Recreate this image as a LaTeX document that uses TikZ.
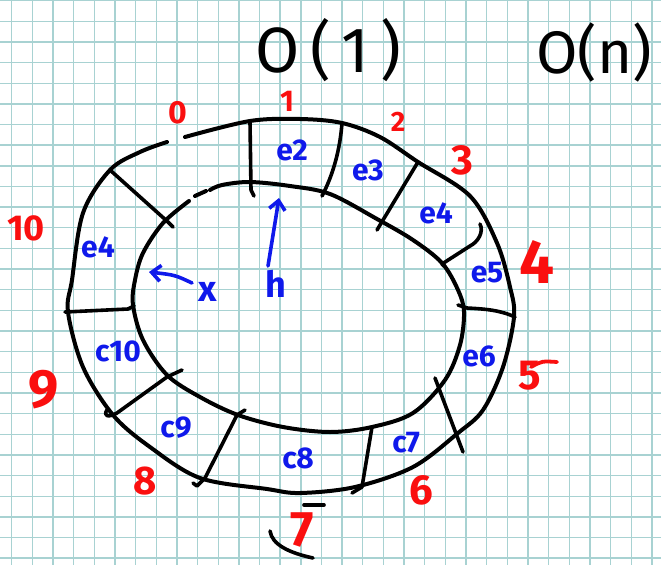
\documentclass[tikz,border=0pt]{standalone}
\usepackage{fontspec}
\setmainfont{Fira Sans}
\usetikzlibrary{arrows.meta}
\definecolor{gridc}{RGB}{168,210,210}
\definecolor{penred}{RGB}{250,15,15}
\definecolor{penblue}{RGB}{15,25,235}
\tikzset{
  ring/.style={line width=4pt, black, line cap=round, line join=round},
  divider/.style={line width=3.6pt, black, line cap=round, line join=round},
  num/.style={text=penred, inner sep=0pt, font=\fontsize{32}{32}\selectfont},
  elab/.style={text=penblue, inner sep=0pt, font=\bfseries\fontsize{30}{30}\selectfont},
  bigtxt/.style={text=black, inner sep=0pt, font=\fontsize{64}{64}\selectfont},
  bluearrow/.style={line width=3.6pt, penblue, line cap=round, -{Straight Barb[length=9pt,width=16pt,line width=3.6pt]}},
}
\begin{document}
\begin{tikzpicture}[x=1pt,y=-1pt]
\useasboundingbox (0,0) rectangle (661,565);
\fill[white] (0,0) rectangle (661,565);
% grid
\foreach \k in {0,...,31} {\draw[gridc, line width=1.4pt] ({11.7+20.65*\k},0) -- ({11.7+20.65*\k},565);}
\foreach \k in {0,...,27} {\draw[gridc, line width=1.4pt] (0,{0.6+20.65*\k}) -- (661,{0.6+20.65*\k});}

% outer ring (gap near 0)
\draw[ring] plot[smooth, tension=0.55] coordinates {
 (185,137) (250,121) (300,119) (342,123) (380,137) (418,162) (470,196) (497,243)
 (510,287) (514,317) (503,367) (483,410) (458,433) (413,467) (355,487) (300,493)
 (267,489) (200,478) (150,447) (113,415) (83,367) (68,312) (72,280) (83,213)
 (110,170) (140,152) (167,142)};
% inner ring (gap and dash near 0)
\draw[ring] plot[smooth, tension=0.55] coordinates {
 (210,190) (222,185) (250,182) (290,186) (330,194) (377,219) (413,240) (442,263)
 (458,290) (464,312) (460,345) (445,380) (413,413) (372,427) (330,432) (283,427)
 (238,415) (200,397) (167,375) (143,340) (133,305) (135,280) (143,253) (163,223)
 (189,201)};
\draw[ring] (195,196) -- (206,191);

% dividers
\draw[divider] (250,122) -- (251,190) -- (254,196);
\draw[divider] (342,123) .. controls (340,150) and (333,175) .. (322,196);
\draw[divider] (418,162) -- (377,230);
\draw[divider] (480,224) .. controls (484,232) and (478,242) .. (470,246) -- (442,264) -- (444,266);
\draw[divider] (458,305) -- (467,308) .. controls (485,309) and (500,310) .. (515,317);
\draw[divider] (435,378) -- (463,452);
\draw[divider] (372,427) -- (362,487) -- (352,493);
\draw[divider] (245,410) -- (237,415) -- (205,478) -- (197,486) -- (193,483);
\draw[divider] (182,370) -- (167,377) -- (117,413) .. controls (108,418) and (103,416) .. (107,410);
\draw[divider] (65,312) -- (128,309) -- (134,306);
\draw[divider] (110,170) -- (168,222) -- (173,227);

% blue labels
\node[elab] (e2) at (292,150) {e2};
\node[elab] (e3) at (368,170) {e3};
\node[elab] (e4r) at (436,213) {e4};
\node[elab] (e5) at (487,273) {e5};
\node[elab] (e6) at (479,356) {e6};
\node[elab] (c7) at (406,443) {c7};
\node[elab] (c8) at (298,458) {c8};
\node[elab] (c9) at (176,428) {c9};
\node[elab] (c10) at (118,351) {c10};
\node[elab] (e4l) at (98,247) {e4};
\node[elab, font=\bfseries\fontsize{36}{36}\selectfont] (xlab) at (208,292) {x};
\node[elab, font=\bfseries\fontsize{36}{36}\selectfont] (hlab) at (276,284) {h};
\coordinate (xtip) at (149,272);
\coordinate (htip) at (279,198);
\coordinate (xs) at (192,283);
\coordinate (hs) at (268,266);
\draw[bluearrow] (xs) .. controls (175,275) .. (xtip);
\draw[bluearrow] (hs) -- (htip);

% red indices
\node[num, font=\bfseries\fontsize{32}{32}\selectfont] (n0) at (178,113) {0};
\node[num, font=\bfseries\fontsize{30}{30}\selectfont] (n1) at (287,101) {1};
\node[num, font=\bfseries\fontsize{28}{28}\selectfont] (n2) at (398,122) {2};
\node[num, font=\bfseries\fontsize{42}{42}\selectfont] (n3) at (462,160) {3};
\node[num, font=\bfseries\fontsize{62}{62}\selectfont] (n4) at (537,262) {4};
\node[num, font=\bfseries\fontsize{42}{42}\selectfont] (n5) at (530,376) {5};
\node[num, font=\bfseries\fontsize{42}{42}\selectfont] (n6) at (421,490) {6};
\node[num, font=\bfseries\fontsize{50}{50}\selectfont] (n7) at (302,530) {7};
\node[num, font=\bfseries\fontsize{40}{40}\selectfont] (n8) at (145,481) {8};
\node[num, font=\bfseries\fontsize{54}{54}\selectfont] (n9) at (44,390) {9};
\node[num, font=\bfseries\fontsize{36}{36}\selectfont] (n10) at (26,228) {10};
\coordinate (s5a) at (531,367);
\coordinate (s5b) at (557,362);
\draw[penred, line width=3.8pt, line cap=round] (s5a) .. controls (542,361) .. (s5b);

% black marks near 7
\coordinate (m7a) at (304,505);
\coordinate (m7b) at (324,505);
\draw[divider] (m7a) -- (m7b);
\coordinate (arcA) at (270,531);
\coordinate (arcB) at (313,558);
\draw[divider] (arcA) .. controls (272,545) and (290,553) .. (arcB);

% complexity notes
\node[bigtxt] (o1) at (328,50) {O\,(\,1\,)};
\node[bigtxt, font=\fontsize{60}{60}\selectfont] (on) at (594,52) {O(n)};
\end{tikzpicture}
\end{document}
